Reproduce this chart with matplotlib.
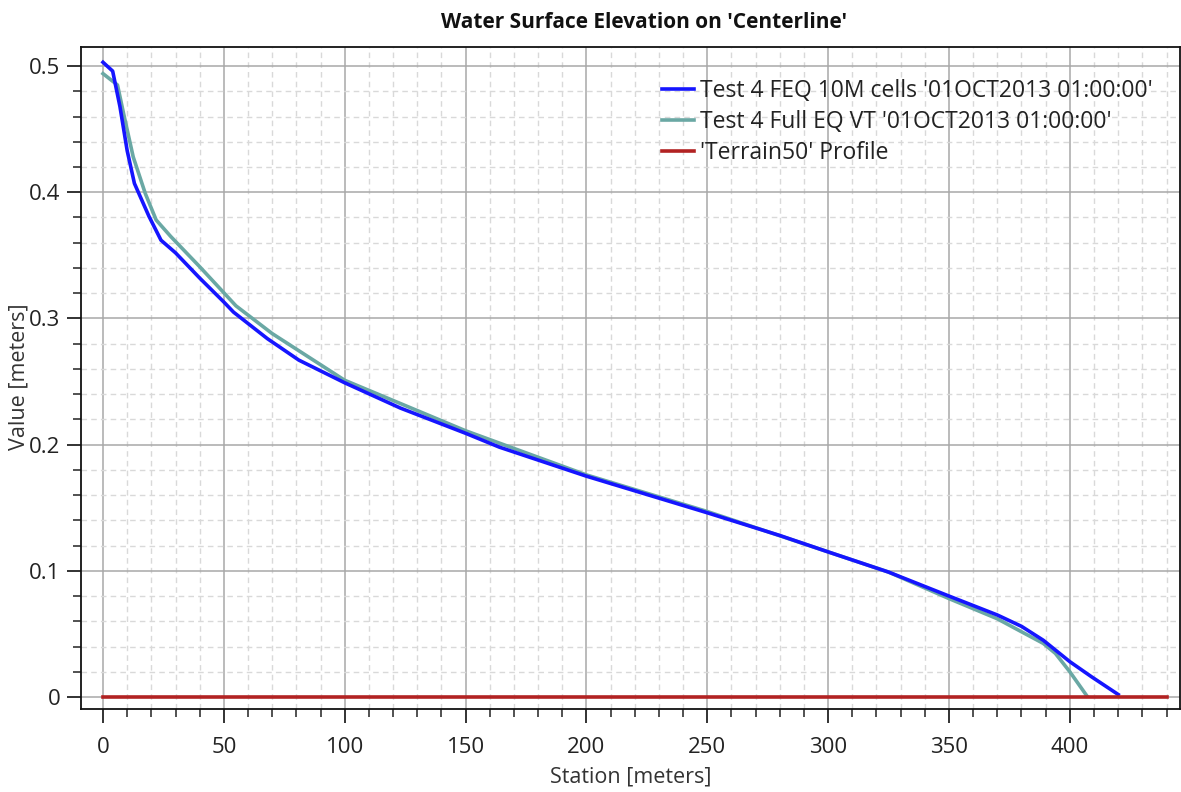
import matplotlib
matplotlib.use("Agg")
import matplotlib.pyplot as plt
from matplotlib.ticker import MultipleLocator

plt.rcParams['font.family'] = ['Open Sans', 'DejaVu Sans']

# Data
feq_x = [0, 4, 7, 10, 13, 19, 24, 30, 40, 50, 54, 68, 81, 100, 123, 150, 164,
         200, 250, 280, 300, 325, 350, 370, 380, 389, 400, 409, 420]
feq_y = [0.503, 0.496, 0.468, 0.433, 0.407, 0.381, 0.362, 0.352, 0.332, 0.313,
         0.305, 0.284, 0.267, 0.249, 0.229, 0.209, 0.198, 0.175, 0.146, 0.128,
         0.115, 0.099, 0.080, 0.065, 0.056, 0.045, 0.028, 0.016, 0.002]

full_x = [0, 6, 8.5, 12.5, 17.5, 22, 28, 36, 40, 55, 70, 100, 150, 200, 250,
          300, 325, 350, 370, 380, 389, 394, 400, 407]
full_y = [0.494, 0.485, 0.4625, 0.428, 0.399, 0.378, 0.365, 0.349, 0.341, 0.310,
          0.288, 0.251, 0.211, 0.176, 0.147, 0.115, 0.099, 0.078, 0.062, 0.0517,
          0.0425, 0.0346, 0.020, 0.001]

terrain_x = [0, 440]
terrain_y = [0, 0]

labels = ["Test 4 FEQ 10M cells '01OCT2013 01:00:00'",
          "Test 4 Full EQ VT '01OCT2013 01:00:00'",
          "'Terrain50' Profile"]

fig = plt.figure(figsize=(11.81, 7.92), dpi=100)
ax = fig.add_axes([81/1181, 1 - 709/792, 1 - 81/1181 - 0.001, (709 - 46.5)/792])

ax.plot(feq_x, feq_y, color='#1515ff', lw=2.6, label=labels[0], zorder=4)
ax.plot(full_x, full_y, color='#6aa8a4', lw=2.6, label=labels[1], zorder=3)
ax.plot(terrain_x, terrain_y, color='#b22222', lw=2.6, label=labels[2], zorder=5)

ax.set_xlim(-9.1, 445.5)
ax.set_ylim(-0.0095, 0.5155)

ax.xaxis.set_major_locator(MultipleLocator(50))
ax.xaxis.set_minor_locator(MultipleLocator(10))
ax.yaxis.set_major_locator(MultipleLocator(0.1))
ax.yaxis.set_minor_locator(MultipleLocator(0.02))
ax.yaxis.set_major_formatter(plt.FuncFormatter(lambda v, p: '0' if abs(v) < 1e-9 else f'{v:.1f}'))

ax.grid(which='major', color='#a8a8a8', lw=1.1, ls='-')
ax.grid(which='minor', color='#d9d9d9', lw=1.0, ls=(0, (4, 3)))
ax.set_axisbelow(True)

ax.tick_params(which='major', direction='out', length=10, width=1.3, labelsize=16,
               colors='#222222')
ax.tick_params(axis='x', which='major', pad=10)
ax.tick_params(axis='y', which='major', pad=5)
ax.tick_params(which='minor', direction='out', length=6, width=1.1, colors='#222222')
for s in ax.spines.values():
    s.set_color('#111111')
    s.set_linewidth(1.3)

ax.set_xlabel('Station [meters]', fontsize=15.5, color='#333333', labelpad=6)
fig.text(19/1181, 1 - 377/792, 'Value [meters]', rotation=90, ha='center', va='center',
         fontsize=15.5, color='#333333')
fig.text(0.545, 1 - 22/792, "Water Surface Elevation on 'Centerline'", ha='center', va='center',
         fontsize=15, fontweight='bold', color='#111111')

leg = ax.legend(loc='upper right', frameon=False, fontsize=16.5, handlelength=1.4,
                handletextpad=0.25, borderaxespad=0.3, labelspacing=0.3,
                bbox_to_anchor=(0.99, 0.975))
for t in leg.get_texts():
    t.set_color('#222222')

fig.savefig('out.png', dpi=100)
